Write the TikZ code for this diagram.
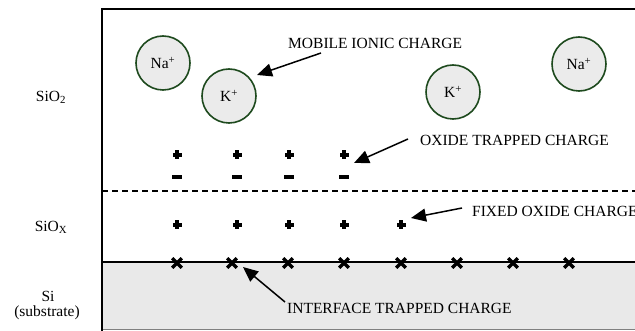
\documentclass[tikz,border=0pt]{standalone}
\usepackage{fontspec}
\setmainfont{Liberation Serif}
\usetikzlibrary{arrows.meta}
\definecolor{ringgreen}{HTML}{1E4A1E}
\definecolor{ionfill}{HTML}{EBEBEB}
\definecolor{subfill}{HTML}{E9E9E9}
\tikzset{
  lbl/.style={inner sep=0pt, font=\fontsize{15.5}{18}\selectfont},
  ion/.style={circle, draw=ringgreen, fill=ionfill, line width=1.6pt, minimum size=54pt, inner sep=0pt, font=\fontsize{15.5}{18}\selectfont},
  plusmark/.style={rectangle, minimum size=10pt, inner sep=0pt, path picture={
    \fill ([xshift=-4.5pt,yshift=-1.6pt]path picture bounding box.center) rectangle ([xshift=4.5pt,yshift=1.6pt]path picture bounding box.center);
    \fill ([xshift=-1.6pt,yshift=-4.5pt]path picture bounding box.center) rectangle ([xshift=1.6pt,yshift=4.5pt]path picture bounding box.center);}},
  minusmark/.style={rectangle, fill, minimum width=10pt, minimum height=3.6pt, inner sep=0pt},
  xmark/.style={rectangle, minimum size=16pt, inner sep=0pt, path picture={
    \draw[line width=3.2pt] ([xshift=-4.8pt,yshift=-4.8pt]path picture bounding box.center) -- ([xshift=4.8pt,yshift=4.8pt]path picture bounding box.center);
    \draw[line width=3.2pt] ([xshift=-4.8pt,yshift=4.8pt]path picture bounding box.center) -- ([xshift=4.8pt,yshift=-4.8pt]path picture bounding box.center);}},
  callout/.style={line width=1.5pt, -{Triangle[length=15pt,width=13pt]}}
}
\begin{document}
\begin{tikzpicture}[x=1pt,y=-1pt]
\useasboundingbox (0,0) rectangle (635,331);
\clip (0,0) rectangle (635,331);
% substrate
\fill[subfill] (102,262) rectangle (640,330);
\draw[gray, line width=1pt] (102,329.5) -- (640,329.5);
% frame
\draw[line width=2pt] (102,331) -- (102,9) -- (640,9);
\draw[line width=1.5pt] (102,262) -- (640,262);
\draw[line width=1.5pt, dash pattern=on 6pt off 4pt] (102,191) -- (640,191);
% left labels
\node[lbl] (sio2) at (51,97) {SiO\textsubscript{2}};
\node[lbl] (siox) at (51,227) {SiO\textsubscript{X}};
\node[lbl] (si) at (48,296) {Si};
\node[lbl] (sub) at (47,313) {(substrate)};
% ions
\node[ion] (na1) at (163,63) {Na\textsuperscript{+}};
\node[ion] (k1) at (229,96) {K\textsuperscript{+}};
\node[ion] (k2) at (453,92) {K\textsuperscript{+}};
\node[ion] (na2) at (579,64) {Na\textsuperscript{+}};
% oxide trapped charges
\foreach \i/\x in {1/177,2/237,3/289,4/344} {
  \node[plusmark] (tp\i) at (\x,155) {};
  \node[minusmark] (tm\i) at (\x,177) {};
}
% fixed oxide charges
\foreach \i/\x in {1/177,2/237,3/289,4/344,5/401} {
  \node[plusmark] (fp\i) at (\x,225) {};
}
% interface trapped charges
\foreach \i/\x in {1/177,2/232,3/288,4/344,5/401,6/457,7/513,8/569} {
  \node[xmark] (ix\i) at (\x,263) {};
}
% callout labels
\node[lbl, anchor=west] (mob) at (288,43) {MOBILE IONIC CHARGE};
\node[lbl, anchor=west] (otc) at (420,140) {OXIDE TRAPPED CHARGE};
\node[lbl, anchor=west] (foc) at (472,211) {FIXED OXIDE CHARGE};
\node[lbl, anchor=west] (itc) at (287,308) {INTERFACE TRAPPED CHARGE};
% arrows
\coordinate (mobs) at (321,53);
\coordinate (mobt) at (257,75);
\coordinate (otcs) at (408,139);
\coordinate (otct) at (354,163);
\coordinate (focs) at (462,208);
\coordinate (foct) at (411,218);
\coordinate (itcs) at (285,302);
\coordinate (itct) at (243,267);
\draw[callout] (mobs) -- (mobt);
\draw[callout] (otcs) -- (otct);
\draw[callout] (focs) -- (foct);
\draw[callout] (itcs) -- (itct);
\end{tikzpicture}
\end{document}
